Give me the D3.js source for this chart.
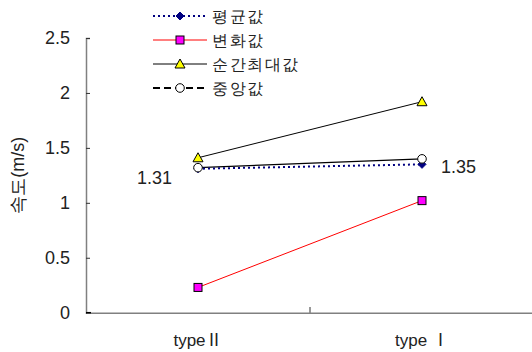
<!DOCTYPE html>
<html><head><meta charset="utf-8">
<script src="https://cdn.jsdelivr.net/npm/d3@7"></script>
<style>body{margin:0;background:#fff}svg{display:block}text{font-family:"Liberation Sans",Arial,sans-serif}</style>
</head><body><svg width="532" height="352"></svg>
<script>
const categories = ["type\u2161", "type \u2160"];
const meanVals = [1.31, 1.35];
const changeVals = [0.23, 1.02];
const peakVals = [1.41, 1.92];
const medianVals = [1.32, 1.40];
const yTicks = [0, 0.5, 1, 1.5, 2, 2.5];
const seriesNames = ["평균값", "변화값", "순간최대값", "중앙값"];

const svg = d3.select("svg");
const x = d3.scaleBand().domain(categories).range([86, 534]);
const y = d3.scaleLinear().domain([0, 2.5]).range([312.7, 38]);
const cx = d => x(d) + x.bandwidth() / 2;

const series = [
  {name: seriesNames[0], vals: meanVals, color: "#000080", dash: "2,3", width: 2, marker: "diamond", fill: "#000080", mstroke: "#000080"},
  {name: seriesNames[1], vals: changeVals, color: "#ff0000", dash: null, width: 1, marker: "square", fill: "#ff00ff", mstroke: "#000"},
  {name: seriesNames[2], vals: peakVals, color: "#000", dash: null, width: 1, marker: "triangle", fill: "#ffff00", mstroke: "#000"},
  {name: seriesNames[3], vals: medianVals, color: "#000", dash: "10,1", width: 1.3, marker: "circle", fill: "#fff", mstroke: "#000"}
];

// axes
const ya = d3.axisLeft(y).tickValues(yTicks).tickSize(-4).tickPadding(16).tickFormat(d3.format("~g"));
const gy = svg.append("g").attr("transform", "translate(86,0)").call(ya);
gy.select(".domain").attr("stroke", "#808080").attr("stroke-width", 1.5);
gy.selectAll(".tick line").attr("stroke", "#333");
gy.selectAll(".tick text").attr("font-size", 18).attr("fill", "#222").attr("font-family", "Liberation Sans, Arial, sans-serif");

const xa = d3.axisBottom(x).tickSize(0).tickPadding(21).tickFormat(() => "");
const gx = svg.append("g").attr("transform", "translate(0,312.7)").call(xa);
gx.select(".domain").attr("stroke", "#808080").attr("stroke-width", 1.5);
gx.selectAll(".tick").each(function(d) {
  const m = d.match(/^type(\s?)(.*)$/);
  const t = d3.select(this).select("text").attr("font-size", 17).attr("fill", "#222")
    .attr("font-family", "Liberation Sans, Arial, sans-serif");
  t.append("tspan").text("type" + m[1]);
  t.append("tspan").attr("font-family", "Noto Sans CJK KR, sans-serif").text(m[2]);
});
// category boundary tick
svg.append("line").attr("x1", x(categories[1])).attr("x2", x(categories[1])).attr("y1", 312.7).attr("y2", 307).attr("stroke", "#333");
svg.append("line").attr("x1", 86).attr("x2", 91).attr("y1", 312.7).attr("y2", 312.7).attr("stroke", "#000").attr("stroke-width", 1.5);

svg.append("text").attr("transform", "translate(24," + y(1.25) + ") rotate(-90)")
  .attr("text-anchor", "middle").attr("font-size", 18).attr("fill", "#222").text("속도(m/s)");

function drawMarker(g, type, px, py, s) {
  if (type === "diamond") g.append("path").attr("d", `M${px},${py-4}L${px+4},${py}L${px},${py+4}L${px-4},${py}Z`).attr("fill", s.fill).attr("stroke", s.mstroke);
  else if (type === "square") g.append("rect").attr("x", px-4).attr("y", py-4).attr("width", 8).attr("height", 8).attr("fill", s.fill).attr("stroke", s.mstroke);
  else if (type === "triangle") g.append("path").attr("d", `M${px},${py-5}L${px+5},${py+4}L${px-5},${py+4}Z`).attr("fill", s.fill).attr("stroke", s.mstroke);
  else g.append("circle").attr("cx", px).attr("cy", py).attr("r", 4.3).attr("fill", s.fill).attr("stroke", s.mstroke);
}

const line = d3.line().x((d, i) => cx(categories[i])).y(d => y(d));
[1, 2, 3, 0].forEach(k => {
  const s = series[k];
  svg.append("path").attr("d", line(s.vals)).attr("fill", "none").attr("stroke", s.color)
    .attr("stroke-width", s.width).attr("stroke-dasharray", k === 3 ? null : s.dash);
});
[1, 2, 0, 3].forEach(k => {
  const s = series[k];
  s.vals.forEach((v, i) => drawMarker(svg, s.marker, cx(categories[i]), y(v), s));
});

// data labels for mean
svg.append("text").attr("x", cx(categories[0]) - 26).attr("y", y(meanVals[0]) + 15).attr("text-anchor", "end")
  .attr("font-size", 18).attr("fill", "#222").text(meanVals[0].toFixed(2));
svg.append("text").attr("x", cx(categories[1]) + 19).attr("y", y(meanVals[1]) + 9).attr("text-anchor", "start")
  .attr("font-size", 18).attr("fill", "#222").text(meanVals[1].toFixed(2));

// legend
const lg = svg.append("g");
series.forEach((s, i) => {
  const ly = 16 + i * 24;
  const dash = i === 3 ? "7,4" : s.dash;
  lg.append("line").attr("x1", 153).attr("x2", 207).attr("y1", ly).attr("y2", ly).attr("stroke", s.color)
    .attr("stroke-width", i === 0 ? 2 : (i === 3 ? 2 : 1)).attr("stroke-dasharray", dash);
  drawMarker(lg, s.marker, 180, ly, s);
  lg.append("text").attr("x", 212).attr("y", ly + 6).attr("font-size", 15.5).attr("letter-spacing", 1.5).attr("fill", "#222")
    .attr("font-family", "Noto Sans CJK KR, sans-serif").text(s.name);
});
</script></body></html>
